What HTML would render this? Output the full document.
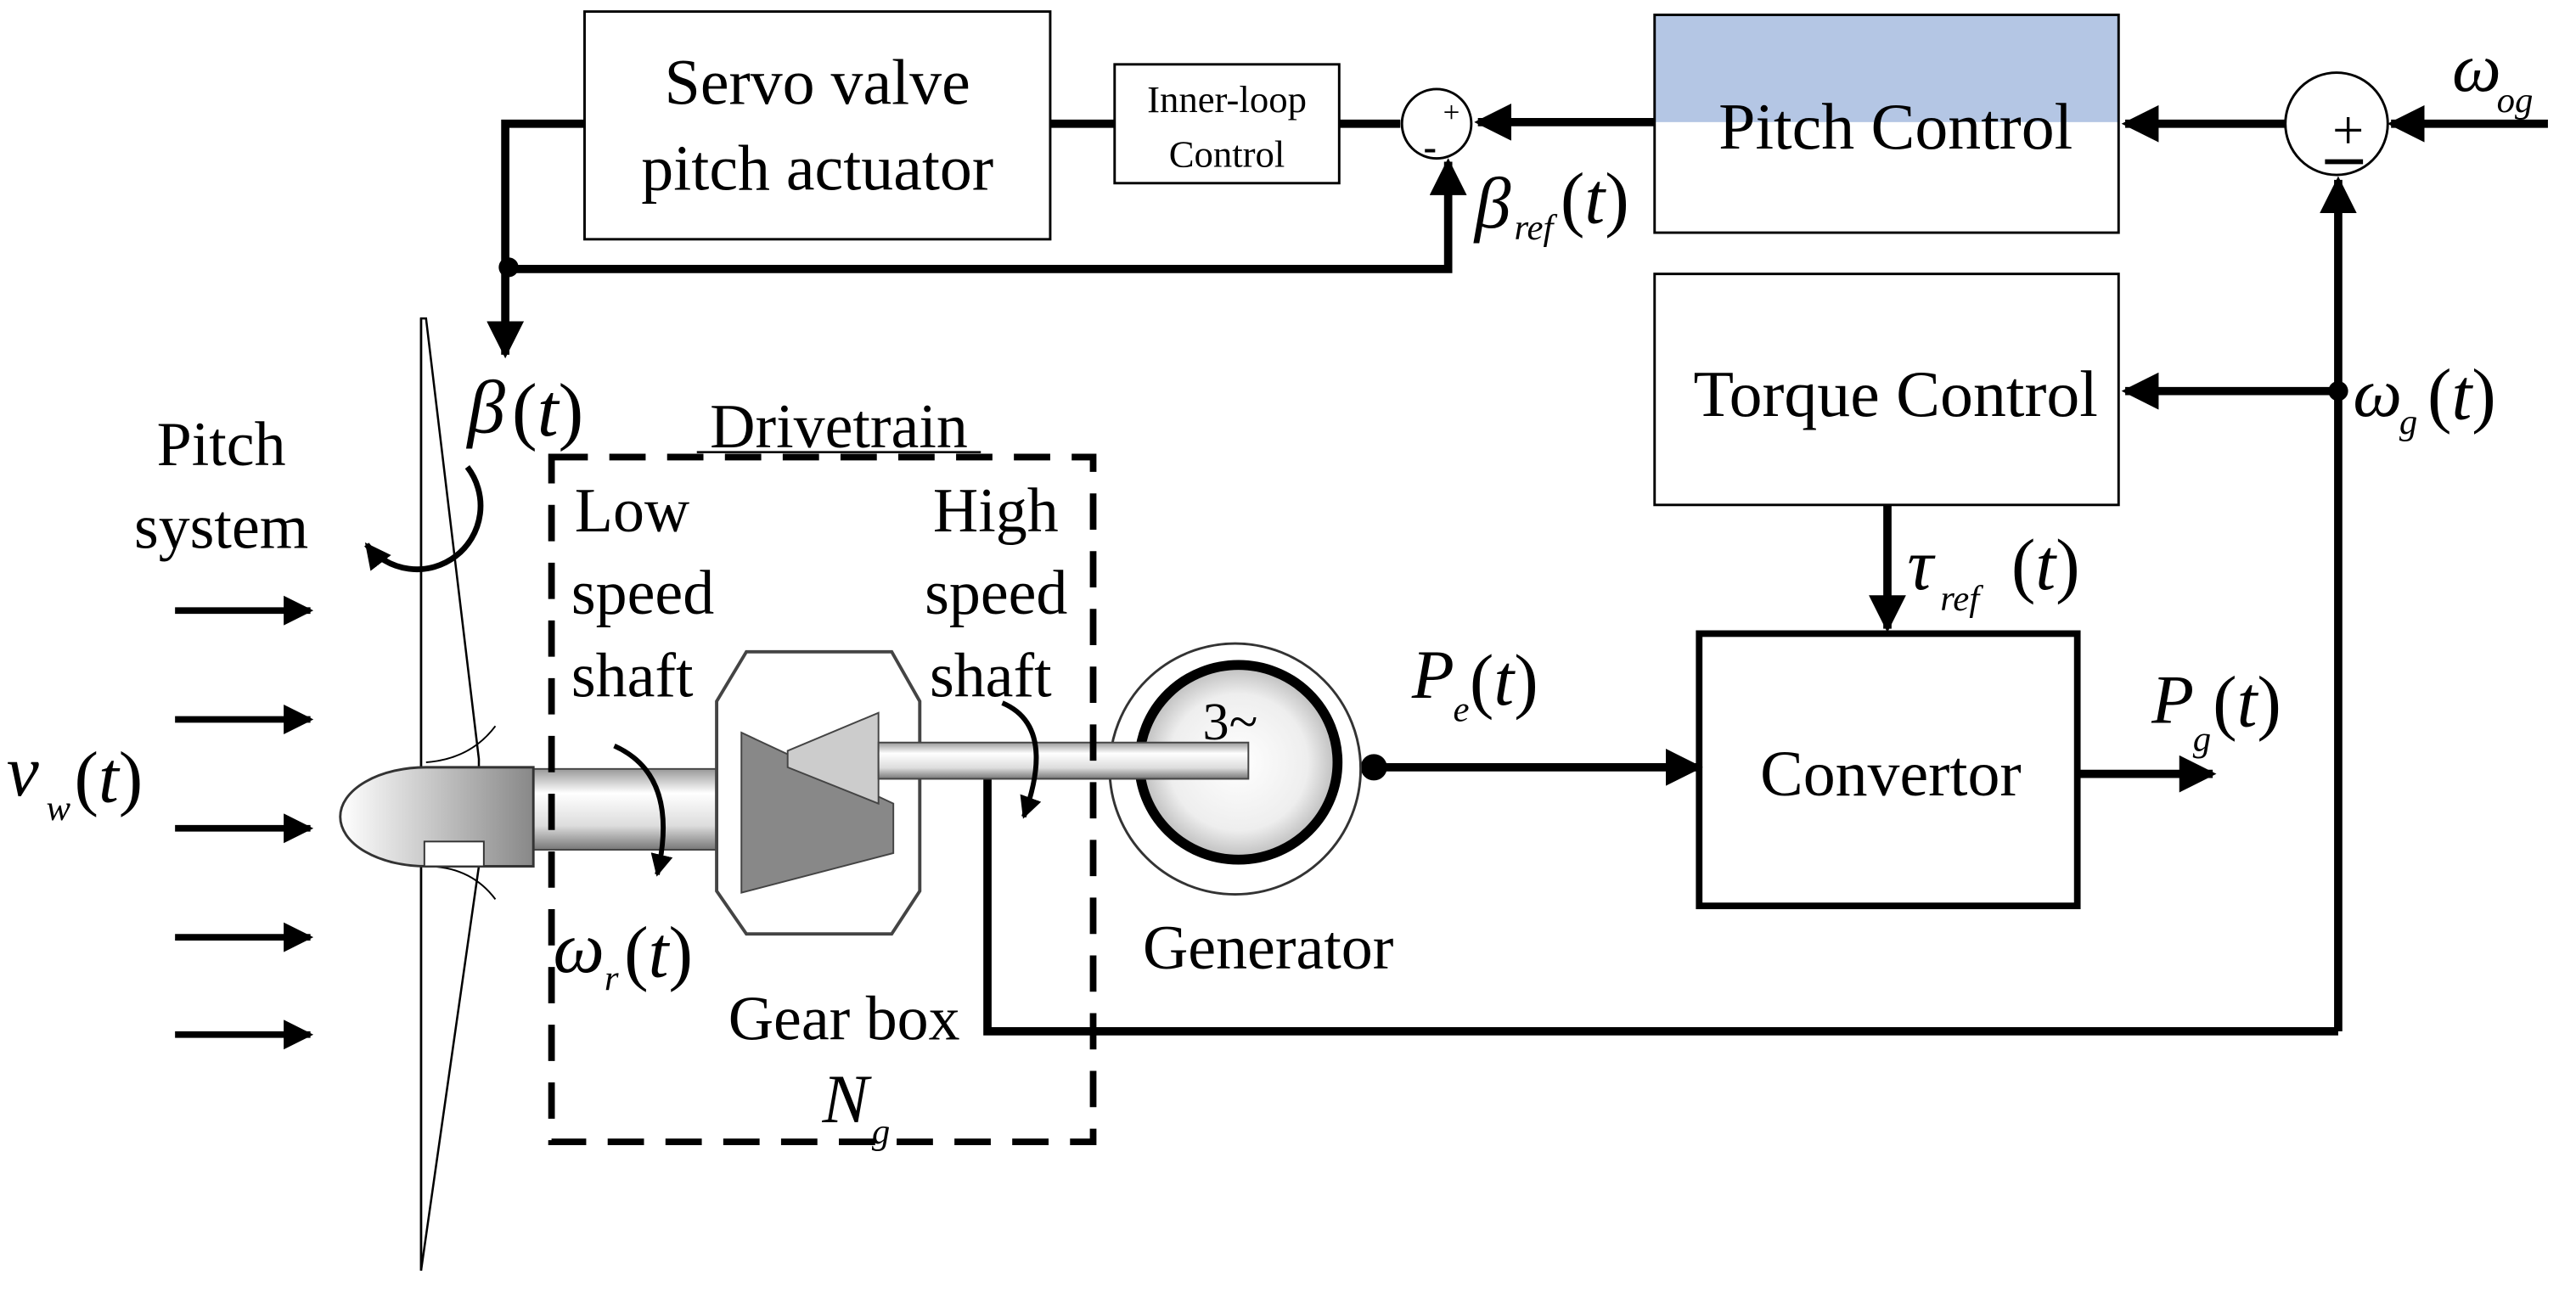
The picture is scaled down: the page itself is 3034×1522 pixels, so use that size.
<!DOCTYPE html>
<html><head><meta charset="utf-8"><style>
html,body{margin:0;padding:0;background:#fff;}
svg{display:block;}
text{font-family:"Liberation Serif",serif;fill:#000;}
.it{font-style:italic;}
</style></head><body>
<svg width="3034" height="1522" viewBox="0 0 1560 783" preserveAspectRatio="none" xmlns="http://www.w3.org/2000/svg">
<defs>
<marker id="ah" viewBox="0 0 10 10" refX="9" refY="5" markerWidth="4.5" markerHeight="4.5" orient="auto" markerUnits="strokeWidth"><path d="M0,0 L10,5 L0,10 z" fill="#000"/></marker>
<radialGradient id="gen" cx="0.5" cy="0.5" r="0.5"><stop offset="0" stop-color="#fff"/><stop offset="0.7" stop-color="#eee"/><stop offset="1" stop-color="#bbb"/></radialGradient>
<linearGradient id="shaft" x1="0" y1="0" x2="0" y2="1"><stop offset="0" stop-color="#999"/><stop offset="0.3" stop-color="#fff"/><stop offset="0.7" stop-color="#ddd"/><stop offset="1" stop-color="#777"/></linearGradient>
<linearGradient id="hub" x1="0" y1="0" x2="1" y2="0"><stop offset="0" stop-color="#fff"/><stop offset="1" stop-color="#888"/></linearGradient>
</defs>

<rect x="354" y="7" width="282" height="138" fill="#fff" stroke="#000" stroke-width="1.5"/>
<text x="495" y="63" font-size="39" text-anchor="middle">Servo valve</text>
<text x="495" y="115" font-size="39" text-anchor="middle">pitch actuator</text>
<rect x="675" y="39" width="136" height="72" fill="#fff" stroke="#000" stroke-width="1.5"/>
<text x="743" y="68" font-size="23" text-anchor="middle">Inner-loop</text>
<text x="743" y="101" font-size="23" text-anchor="middle">Control</text>
<line x1="636" y1="75" x2="675" y2="75" stroke="#000" stroke-width="5"/>
<line x1="811" y1="75" x2="848" y2="75" stroke="#000" stroke-width="5"/>
<circle cx="870" cy="75" r="21" fill="#fff" stroke="#000" stroke-width="1.5"/>
<text x="879" y="74" font-size="18" text-anchor="middle">+</text>
<text x="866" y="97" font-size="24" font-weight="bold" text-anchor="middle">-</text>
<polyline points="354,75 306,75 306,215" fill="none" stroke="#000" stroke-width="5" marker-end="url(#ah)"/>
<circle cx="308" cy="162" r="6" fill="#000"/>
<polyline points="306,163 877,163 877,98" fill="none" stroke="#000" stroke-width="5" marker-end="url(#ah)"/>
<rect x="1002" y="9" width="281" height="65" fill="#b4c6e4"/>
<rect x="1002" y="9" width="281" height="132" fill="none" stroke="#000" stroke-width="1.5"/>
<text x="1148" y="90" font-size="40" text-anchor="middle">Pitch Control</text>
<line x1="1002" y1="74" x2="895" y2="74" stroke="#000" stroke-width="5" marker-end="url(#ah)"/>
<text x="893" y="138" font-size="44" class="it">β</text>
<text x="917" y="145" font-size="22" class="it">ref</text>
<text x="945" y="135" font-size="44">(<tspan class="it">t</tspan>)</text>
<circle cx="1415" cy="75" r="31" fill="#fff" stroke="#000" stroke-width="1.5"/>
<text x="1422" y="90" font-size="34" text-anchor="middle">+</text>
<line x1="1408" y1="98" x2="1431" y2="98" stroke="#000" stroke-width="3"/>
<line x1="1543" y1="75" x2="1448" y2="75" stroke="#000" stroke-width="5" marker-end="url(#ah)"/>
<text x="1485" y="55" font-size="42" class="it">ω</text>
<text x="1512" y="68" font-size="22" class="it">og</text>
<line x1="1384" y1="75" x2="1287" y2="75" stroke="#000" stroke-width="5" marker-end="url(#ah)"/>
<rect x="1002" y="166" width="281" height="140" fill="#fff" stroke="#000" stroke-width="1.5"/>
<text x="1148" y="252" font-size="40" text-anchor="middle">Torque Control</text>
<line x1="1414" y1="237" x2="1287" y2="237" stroke="#000" stroke-width="5" marker-end="url(#ah)"/>
<line x1="1416" y1="625" x2="1416" y2="109" stroke="#000" stroke-width="5" marker-end="url(#ah)"/>
<circle cx="1416" cy="237" r="6" fill="#000"/>
<text x="1425" y="252" font-size="42" class="it">ω</text>
<text x="1453" y="263" font-size="22" class="it">g</text>
<text x="1470" y="254" font-size="44">(<tspan class="it">t</tspan>)</text>
<line x1="1143" y1="306" x2="1143" y2="381" stroke="#000" stroke-width="5" marker-end="url(#ah)"/>
<text x="1155" y="357" font-size="44" class="it">τ</text>
<text x="1175" y="370" font-size="22" class="it">ref</text>
<text x="1218" y="357" font-size="44">(<tspan class="it">t</tspan>)</text>
<rect x="1029" y="384" width="229" height="165" fill="#fff" stroke="#000" stroke-width="4"/>
<text x="1145" y="482" font-size="39" text-anchor="middle">Convertor</text>
<line x1="1258" y1="469" x2="1340" y2="469" stroke="#000" stroke-width="5" marker-end="url(#ah)"/>
<text x="1303" y="438" font-size="42" class="it">P</text>
<text x="1328" y="455" font-size="22" class="it">g</text>
<text x="1340" y="440" font-size="44">(<tspan class="it">t</tspan>)</text>
<line x1="830" y1="465" x2="1029" y2="465" stroke="#000" stroke-width="5" marker-end="url(#ah)"/>
<circle cx="832" cy="465" r="8" fill="#000"/>
<text x="855" y="423" font-size="42" class="it">P</text>
<text x="880" y="437" font-size="22" class="it">e</text>
<text x="890" y="427" font-size="44">(<tspan class="it">t</tspan>)</text>
<polyline points="598,472 598,625 1416,625" fill="none" stroke="#000" stroke-width="5"/>

<polygon points="255,193 258,193 290,460 290,525 255,770" fill="#fff" stroke="#000" stroke-width="1.3"/>
<line x1="255" y1="193" x2="255" y2="770" stroke="#000" stroke-width="1.3"/>
<path d="M258,462 Q285,460 300,440" fill="none" stroke="#000" stroke-width="1"/>
<path d="M258,525 Q285,525 300,545" fill="none" stroke="#000" stroke-width="1"/>
<rect x="323" y="466" width="127" height="49" fill="url(#shaft)" stroke="#444" stroke-width="1"/>
<path d="M323,465 L258,465 A52,30 0 0 0 258,525 L323,525 z" fill="url(#hub)" stroke="#333" stroke-width="1.5"/>
<rect x="257" y="510" width="36" height="15" fill="#fff" stroke="#333" stroke-width="1"/>
<polygon points="452,395 540,395 557,425 557,540 540,566 452,566 434,540 434,425" fill="#fff" stroke="#444" stroke-width="2"/>
<polygon points="449,444 541,487 541,517 449,541" fill="#888" stroke="#444" stroke-width="1"/>
<polygon points="477,455 532,432 532,487 477,465" fill="#ccc" stroke="#444" stroke-width="1"/>
<ellipse cx="748" cy="466" rx="76" ry="76" fill="#fff" stroke="#333" stroke-width="1.5"/>
<ellipse cx="750" cy="462" rx="60" ry="59" fill="url(#gen)" stroke="#000" stroke-width="6"/>
<rect x="532" y="450" width="224" height="22" fill="url(#shaft)" stroke="#444" stroke-width="1"/>
<text x="745" y="448" font-size="32" text-anchor="middle" fill="#333">3~</text>
<text x="768" y="587" font-size="38" text-anchor="middle">Generator</text>
<rect x="334" y="277" width="328" height="415" fill="none" stroke="#000" stroke-width="4" stroke-dasharray="22,13"/>
<text x="508" y="271" font-size="38" text-anchor="middle">Drivetrain</text>
<line x1="422" y1="274" x2="594" y2="274" stroke="#000" stroke-width="1.3"/>
<text x="348" y="322" font-size="38">Low</text>
<text x="346" y="372" font-size="38">speed</text>
<text x="346" y="422" font-size="38">shaft</text>
<text x="565" y="322" font-size="38">High</text>
<text x="560" y="372" font-size="38">speed</text>
<text x="563" y="422" font-size="38">shaft</text>
<text x="441" y="630" font-size="38">Gear box</text>
<text x="498" y="680" font-size="42" class="it">N</text>
<text x="528" y="693" font-size="22" class="it">g</text>
<path d="M372,452 Q412,470 398,530" fill="none" stroke="#000" stroke-width="3" marker-end="url(#ah)"/>
<path d="M607,426 Q640,440 620,495" fill="none" stroke="#000" stroke-width="3" marker-end="url(#ah)"/>
<text x="335" y="589" font-size="44" class="it">ω</text>
<text x="366" y="600" font-size="22" class="it">r</text>
<text x="378" y="592" font-size="44">(<tspan class="it">t</tspan>)</text>
<path d="M283,283 A33,33 0 1 1 222,330" fill="none" stroke="#000" stroke-width="3.5" marker-end="url(#ah)"/>
<text x="134" y="282" font-size="38" text-anchor="middle">Pitch</text>
<text x="134" y="332" font-size="38" text-anchor="middle">system</text>
<text x="283" y="262" font-size="46" class="it">β</text>
<text x="310" y="264" font-size="46">(<tspan class="it">t</tspan>)</text>
<g stroke="#000" stroke-width="4">
<line x1="106" y1="370" x2="188" y2="370" marker-end="url(#ah)"/>
<line x1="106" y1="436" x2="188" y2="436" marker-end="url(#ah)"/>
<line x1="106" y1="502" x2="188" y2="502" marker-end="url(#ah)"/>
<line x1="106" y1="568" x2="188" y2="568" marker-end="url(#ah)"/>
<line x1="106" y1="627" x2="188" y2="627" marker-end="url(#ah)"/>
</g>
<text x="4" y="482" font-size="44" class="it">ν</text>
<text x="28" y="497" font-size="22" class="it">w</text>
<text x="45" y="486" font-size="44">(<tspan class="it">t</tspan>)</text>
</svg>
</body></html>
